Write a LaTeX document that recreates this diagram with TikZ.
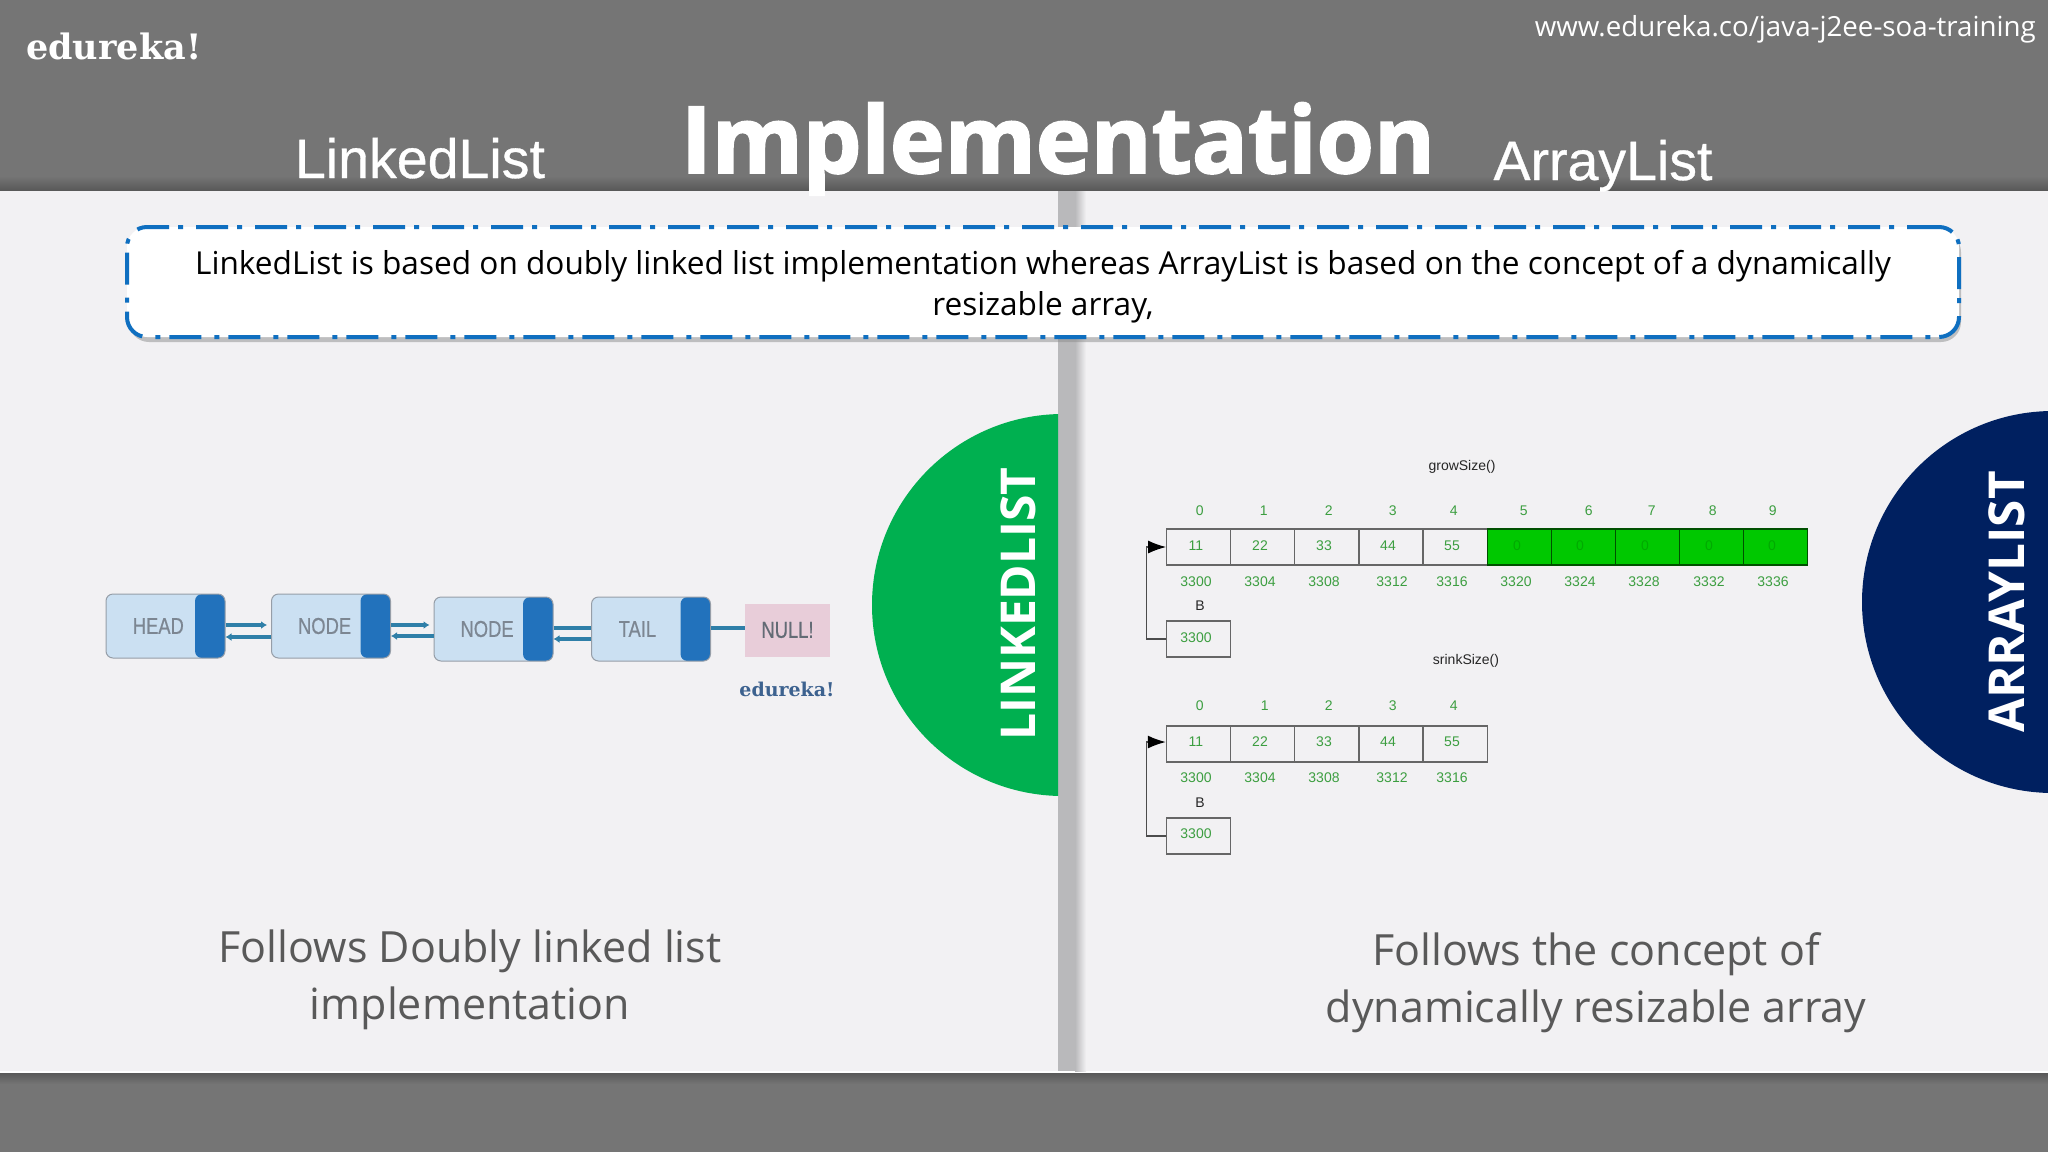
\documentclass[tikz,border=0pt]{standalone}
\usepackage{fontspec}
\setmainfont{Open Sans}
\newfontfamily\slabfont{DejaVu Serif}
\newfontfamily\titlefont[BoldFeatures={FakeBold=2}]{Open Sans}
\newfontfamily\namefont[FakeBold=0.6]{Liberation Sans}
\newfontfamily\arrayfont{Liberation Sans}
\usetikzlibrary{positioning, arrows.meta, shadows}
\definecolor{bandgray}{HTML}{757575}
\definecolor{panelgray}{HTML}{F2F1F3}
\definecolor{splitgray}{HTML}{B9B9BB}
\definecolor{calloutblue}{HTML}{0F6FC0}
\definecolor{llpale}{HTML}{CBE0F2}
\definecolor{lldark}{HTML}{2272BC}
\definecolor{lllink}{HTML}{2F7FA8}
\definecolor{llnull}{HTML}{E8CDD9}
\definecolor{lltextc}{HTML}{7C8692}
\definecolor{llmarkc}{HTML}{3D628F}
\definecolor{cellgreen}{HTML}{00C800}
\definecolor{textgreen}{HTML}{3C9E40}
\definecolor{circlegreen}{HTML}{00B050}
\definecolor{circlenavy}{HTML}{002060}
\definecolor{followgray}{HTML}{595959}
\tikzset{
  headtext/.style={text=white, inner sep=0pt},
  llnode/.style={draw=lltextc!80, fill=llpale, rounded corners=7pt, line width=1pt,
    minimum width=119pt, minimum height=64pt, inner sep=0pt,
    path picture={\fill[lldark] ([xshift=-30pt]path picture bounding box.north east)
      rectangle (path picture bounding box.south east);}},
  lltext/.style={text=lltextc, font=\namefont\fontsize{23}{23}\selectfont, xscale=0.8, inner sep=0pt},
  lllinkline/.style={draw=lllink, line width=4pt},
  lltip/.style={-{Latex[length=6pt,width=8pt]}},
  cell/.style={draw=black!60, line width=1.2pt, minimum width=64.1pt, minimum height=36pt, inner sep=0pt},
  greencell/.style={cell, fill=cellgreen, draw=black!60!cellgreen},
  arrtext/.style={text=textgreen, font=\arrayfont\fontsize{14}{14}\selectfont, inner sep=0pt},
  arrlabel/.style={text=black!85, font=\arrayfont\fontsize{14}{14}\selectfont, inner sep=0pt},
  pointer/.style={draw=black!70, line width=1.2pt, -{Latex[length=18pt,width=13pt,black]}},
  follow/.style={text=followgray, align=center, inner sep=0pt, font=\fontsize{43}{57}\selectfont},
  sidetext/.style={text=white, rotate=90, inner sep=0pt, font=\bfseries\fontsize{48}{48}\selectfont},
}
\begin{document}
\begin{tikzpicture}[x=1pt,y=-1pt]
\useasboundingbox (0,0) rectangle (2048,1152);
\fill[bandgray] (0,0) rectangle (2048,1152);
\shade[top color=bandgray, bottom color=black!65] (0,176) rectangle (2048,190);
\fill[panelgray] (0,191) rectangle (2048,1072);
\fill[white] (0,1071) rectangle (2048,1073);
\shade[top color=black!65, bottom color=bandgray] (0,1073) rectangle (2048,1084);
\fill[splitgray] (1058,191) rectangle (1075,1071);
\shade[left color=splitgray, right color=panelgray] (1075,191) rectangle (1086,1071);
\begin{scope}
  \clip (0,191) rectangle (1058,1073);
  \fill[circlegreen] (1063,605) circle (191);
\end{scope}
\begin{scope}
  \clip (1079,191) rectangle (2048,1073);
  \fill[circlenavy] (2053,602) circle (191);
\end{scope}
\node[sidetext] (sidell) at (1018,604) {LINKEDLIST};
\node[sidetext, font=\bfseries\fontsize{49.5}{49.5}\selectfont] (sideal) at (2007,602) {ARRAYLIST};

\node[headtext, anchor=west, font=\slabfont\bfseries\fontsize{35}{35}\selectfont] (logo) at (26,46) {edureka!};
\node[headtext, anchor=east, font=\fontsize{27.7}{27.7}\selectfont] (site) at (2036,29) {www.edureka.co/java-j2ee-soa-training};
\node[headtext, anchor=base, font=\titlefont\bfseries\fontsize{92.8}{92.8}\selectfont] (title) at (1058,173) {Implementation};
\node[headtext, anchor=base, font=\namefont\fontsize{55.5}{55.5}\selectfont] (leftname) at (420,178) {LinkedList};
\node[headtext, anchor=base, font=\namefont\fontsize{55.5}{55.5}\selectfont] (rightname) at (1603,180) {ArrayList};

\node[draw=calloutblue, fill=white, line width=4pt, rounded corners=20pt,
  dash pattern=on 32pt off 13pt on 5pt off 9pt,
  drop shadow={shadow xshift=2pt, shadow yshift=-5pt, fill=black!45},
  minimum width=1832pt, minimum height=110pt, align=center, inner sep=0pt,
  font=\fontsize{31.6}{41}\selectfont] (callout) at (1043,282)
  {\rule{0pt}{34pt}LinkedList is based on doubly linked list implementation whereas ArrayList is based on the concept of a dynamically\\resizable array,};

\node[llnode, label={[lltext, xshift=-9pt]center:HEAD}] (head) at (165.5,626) {};
\node[llnode, label={[lltext, xshift=-8pt]center:NODE}] (nodea) at (331,626) {};
\node[llnode, label={[lltext, xshift=-8pt]center:NODE}] (nodeb) at (493.5,629) {};
\node[llnode, label={[lltext, xshift=-17pt]center:TAIL}] (tail) at (651,629) {};
\node[fill=llnull, minimum width=85pt, minimum height=53pt, inner sep=0pt, text=lltextc!80!black,
  font=\namefont\fontsize{23}{23}\selectfont] (nullbox) at (787.5,630) {\raisebox{-2pt}{\scalebox{0.8}[1]{NULL!}}};
\node[text=llmarkc, inner sep=0pt, font=\slabfont\bfseries\fontsize{19}{19}\selectfont] (llmark) at (787,689) {edureka!};

\draw[lllinkline, lltip] ([yshift=1pt]head.east) -- ([yshift=1pt,xshift=-4pt]head.east -| nodea.west);
\draw[lllinkline, lltip] ([yshift=-11pt]nodea.west) -- ([yshift=-11pt]nodea.west -| head.east);
\draw[lllinkline, lltip] ([yshift=1pt]nodea.east) -- ([yshift=1pt,xshift=-4pt]nodea.east -| nodeb.west);
\draw[lllinkline, lltip] ([yshift=-7pt]nodeb.west) -- ([yshift=-7pt]nodeb.west -| nodea.east);
\draw[lllinkline] ([yshift=1pt]nodeb.east) -- ([yshift=1pt]nodeb.east -| tail.west);
\draw[lllinkline, lltip] ([yshift=-10pt]tail.west) -- ([yshift=-10pt]tail.west -| nodeb.east);
\draw[lllinkline] ([yshift=1pt]tail.east) -- ([yshift=1pt]tail.east -| nullbox.west);

\node[arrlabel] (grow) at (1462,467) {growSize()};
\foreach \i/\ix/\vx/\ax/\addr/\val in {0/1199/1196/1196/3300/11,1/1263/1260/1260/3304/22,2/1328/1324/1324/3308/33,3/1392/1388/1392/3312/44,4/1453/1452/1452/3316/55}{
  \node[cell] (upper\i) at ({1198.7+64.1*\i},547) {};
  \node[arrtext] (upperidx\i) at ({\ix+0.8},511) {\i};
  \node[arrtext] (upperval\i) at (\vx,546) {\val};
  \node[arrtext] (upperaddr\i) at (\ax,582) {\addr};
}
\foreach \i/\ix/\vx/\ax/\addr in {5/1523/1517/1516/3320,6/1588/1580/1580/3324,7/1651/1645/1644/3328,8/1712/1709/1709/3332,9/1772/1772/1773/3336}{
  \node[greencell] (upper\i) at ({1198.7+64.1*\i},547) {};
  \node[arrtext] (upperidx\i) at ({\ix+0.8},511) {\i};
  \node[arrtext, text=cellgreen!85!black] (upperval\i) at (\vx,546) {0};
  \node[arrtext] (upperaddr\i) at (\ax,582) {\addr};
}
\node[arrlabel] (upperb) at (1200,606) {B};
\node[cell] (upperref) at (1198.7,639) {};
\node[arrtext] (upperreftext) at (1196,638) {3300};
\draw[pointer] (upperref.west) -- ++(-19.5,0) |- (upper0.west);

\node[arrlabel] (srink) at (1466,661) {srinkSize()};
\foreach \i/\ix/\vx/\ax/\addr/\val in {0/1199/1196/1196/3300/11,1/1264/1260/1260/3304/22,2/1328/1324/1324/3308/33,3/1392/1388/1392/3312/44,4/1453/1452/1452/3316/55}{
  \node[cell] (lower\i) at ({1198.4+64.2*\i},744) {};
  \node[arrtext] (loweridx\i) at ({\ix+0.8},706) {\i};
  \node[arrtext] (lowerval\i) at (\vx,742) {\val};
  \node[arrtext] (loweraddr\i) at (\ax,778) {\addr};
}
\node[arrlabel] (lowerb) at (1200,803) {B};
\node[cell] (lowerref) at (1198.4,836) {};
\node[arrtext] (lowerreftext) at (1196,834) {3300};
\draw[pointer] (lowerref.west) -- ++(-19.5,0) |- ([yshift=2pt]lower0.west);

\node[follow] (followl) at (470,980) {Follows Doubly linked list\\implementation};
\node[follow] (followr) at (1596,983) {Follows the concept of\\dynamically resizable array};
\end{tikzpicture}
\end{document}
